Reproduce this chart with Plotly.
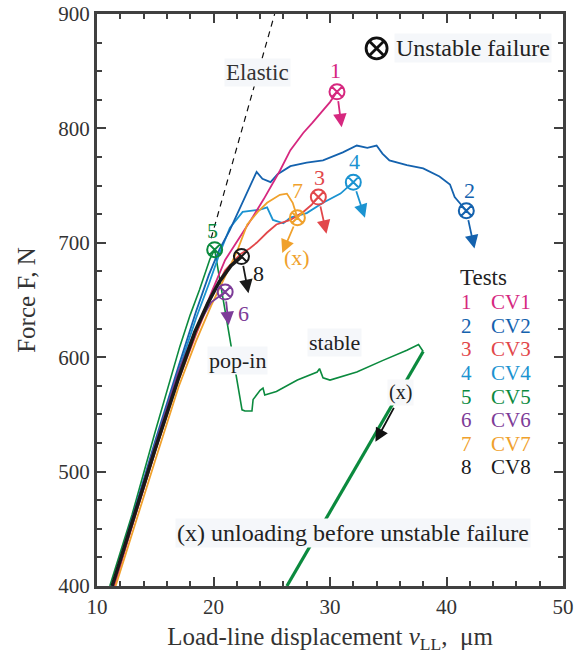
import plotly.graph_objects as go

# Load-line displacement (um) and force (N) for each test
cv1_x = [11.5, 13.0, 15.0, 17.0, 18.5, 19.8, 21.0, 22.3, 23.4, 24.3, 25.1, 25.7, 26.6, 27.7, 28.5, 29.4, 30.0, 30.6]
cv1_y = [400, 452, 518, 582, 622, 656, 685, 705, 723, 738, 752, 763, 781, 796, 805, 816, 823, 832]

cv2_x = [11.3, 13.0, 15.0, 17.0, 18.5, 19.6, 20.5, 21.4, 22.3, 23.0, 23.7, 24.2, 24.9, 25.5, 26.6, 28.0, 29.4,
         31.1, 32.3, 33.2, 34.0, 34.5, 35.1, 36.6, 38.0, 39.4, 40.3, 40.7, 41.7]
cv2_y = [400, 458, 527, 592, 640, 672, 694, 711, 731, 748, 762, 756, 753, 760, 767, 770, 772,
         779, 785, 783, 785, 778, 772, 768, 765, 758, 751, 740, 728]

cv3_x = [11.4, 13.0, 15.0, 17.0, 18.5, 19.8, 21.0, 22.3, 23.1, 23.7, 24.6, 25.4, 26.6, 27.7, 28.4, 29.0]
cv3_y = [400, 453, 518, 580, 620, 652, 676, 690, 695, 700, 709, 716, 720, 727, 733, 740]

cv4_x = [11.3, 13.0, 15.0, 17.0, 18.5, 19.6, 20.5, 21.4, 22.5, 24.0, 24.6, 25.1, 26.0, 26.6, 28.0, 29.4, 30.9, 32.0]
cv4_y = [400, 457, 524, 588, 634, 664, 690, 713, 727, 729, 731, 720, 717, 722, 726, 735, 743, 753]

cv5_x = [11.1, 13.0, 15.0, 17.1, 18.0, 18.8, 19.7, 20.1, 22.45, 22.7, 23.3, 23.4, 24.0, 24.25, 24.4, 25.4,
         27.2, 28.9, 29.1, 29.4, 30.0, 32.3, 34.5, 36.6, 37.6, 38.0]
cv5_y = [400, 462, 535, 609, 637, 659, 686, 694, 554, 553, 553, 563, 571, 573, 567, 570,
         580, 587, 590, 582, 580, 587, 597, 606, 611, 605]

# Unloading branch of CV5 (marked (x))
cv5u_x = [38.0, 26.3]
cv5u_y = [605, 400]

cv6_x = [11.3, 13.0, 15.0, 17.0, 18.5, 19.8, 21.0]
cv6_y = [400, 458, 524, 588, 625, 648, 657]

cv7_x = [11.6, 13.0, 15.0, 17.0, 18.5, 19.8, 20.8, 22.0, 22.9, 23.8, 24.6, 25.7, 26.3, 26.8, 27.2]
cv7_y = [400, 446, 510, 574, 614, 645, 667, 692, 716, 727, 735, 742, 743, 735, 722]

cv8_x = [11.3, 13.0, 15.0, 17.0, 18.4, 19.5, 20.5, 21.5, 22.4]
cv8_y = [400, 455, 520, 582, 622, 647, 666, 680, 688]

# Elastic compliance line
elastic_x = [19.8, 25.25]
elastic_y = [704, 900]

tests = ["CV1", "CV2", "CV3", "CV4", "CV5", "CV6", "CV7", "CV8"]
numbers = ["1", "2", "3", "4", "5", "6", "7", "8"]
colors = ["#d6287f", "#1462ae", "#e2474a", "#1b93d1", "#0b8a3e", "#7d3c98", "#f0a12c", "#1a1a1a"]

# Unstable failure points, number label positions, and drop-arrow end points
fail_x = [30.6, 41.7, 29.0, 32.0, 20.1, 21.0, 27.2, 22.4]
fail_y = [832, 728, 740, 753, 694, 657, 722, 688]
num_x = [30.45, 41.95, 29.1, 32.1, 19.95, 22.55, 27.25, 23.85]
num_y = [851, 746, 757, 771, 711, 638, 746, 673]
drop_x = [31.0, 42.4, 29.7, 33.0, None, 21.3, 25.9, 23.0]
drop_y = [801, 695, 708, 722, None, 628, 691, 656]

FONT = "Liberation Serif, Times New Roman, serif"

fig = go.Figure()

fig.add_trace(go.Scatter(x=elastic_x, y=elastic_y, mode="lines",
                         line=dict(color="#111111", width=1.2, dash="6px,5px")))

curves = [
    (cv5_x, cv5_y, 4, 1.6),
    (cv4_x, cv4_y, 3, 1.8),
    (cv2_x, cv2_y, 1, 1.8),
    (cv1_x, cv1_y, 0, 1.8),
    (cv3_x, cv3_y, 2, 1.8),
    (cv7_x, cv7_y, 6, 1.8),
    (cv6_x, cv6_y, 5, 1.8),
    (cv8_x, cv8_y, 7, 3.6),
]
for xs, ys, i, w in curves:
    fig.add_trace(go.Scatter(x=xs, y=ys, mode="lines",
                             line=dict(color=colors[i], width=w)))

fig.add_trace(go.Scatter(x=cv5u_x, y=cv5u_y, mode="lines",
                         line=dict(color=colors[4], width=3.2)))

fig.add_trace(go.Scatter(x=fail_x, y=fail_y, mode="markers",
                         marker=dict(symbol="circle-x-open", size=15, color=colors,
                                     line=dict(width=2, color=colors))))

annotations = []
for i in range(8):
    annotations.append(dict(x=num_x[i], y=num_y[i], text=numbers[i], showarrow=False,
                            font=dict(family=FONT, size=22, color=colors[i])))
    if drop_x[i] is not None:
        annotations.append(dict(x=drop_x[i], y=drop_y[i], ax=fail_x[i], ay=fail_y[i],
                                xref="x", yref="y", axref="x", ayref="y", text="",
                                showarrow=True, arrowhead=2, arrowsize=1.5, arrowwidth=1.8,
                                arrowcolor=colors[i], startstandoff=8))

# Orange (x) for CV7 unloading
annotations.append(dict(x=27.2, y=687, text="(x)", showarrow=False,
                        font=dict(family=FONT, size=22, color=colors[6])))

# Unloading arrow on CV5
annotations.append(dict(x=33.9, y=526, ax=35.55, ay=557, xref="x", yref="y", axref="x", ayref="y",
                        text="", showarrow=True, arrowhead=2, arrowsize=1.5, arrowwidth=1.8,
                        arrowcolor="#111111"))
annotations.append(dict(x=36.05, y=569, text="(x)", showarrow=False, bgcolor="#f7f8fa",
                        font=dict(family=FONT, size=20, color="#222222")))

box = "#f5f7fa"
annotations += [
    dict(x=23.8, y=849, text="Elastic", showarrow=False, bgcolor=box,
         font=dict(family=FONT, size=23, color="#333333")),
    dict(x=42.3, y=870, text="Unstable failure", showarrow=False, bgcolor=box,
         font=dict(family=FONT, size=24, color="#222222")),
    dict(x=22.1, y=597, text="pop-in", showarrow=False, bgcolor=box,
         font=dict(family=FONT, size=22, color="#222222")),
    dict(x=30.35, y=613, text="stable", showarrow=False, bgcolor=box,
         font=dict(family=FONT, size=22, color="#222222")),
    dict(x=32.0, y=446, text="(x) unloading before unstable failure", showarrow=False, bgcolor=box,
         font=dict(family=FONT, size=24, color="#222222")),
    dict(x=43.2, y=670, text="Tests", showarrow=False,
         font=dict(family=FONT, size=23, color="#222222")),
]

# Legend of tests (number and test name in the test colour)
legend_top = 648
legend_step = 20.6
for i in range(8):
    ly = legend_top - legend_step * i
    annotations.append(dict(x=41.75, y=ly, text=numbers[i], showarrow=False,
                            font=dict(family=FONT, size=21, color=colors[i])))
    annotations.append(dict(x=45.5, y=ly, text=tests[i], showarrow=False,
                            font=dict(family=FONT, size=21, color=colors[i])))

fig.add_trace(go.Scatter(x=[34.0], y=[870], mode="markers",
                         marker=dict(symbol="circle-x-open", size=21, color="#111111",
                                     line=dict(width=2.8, color="#111111"))))

axis_common = dict(showline=True, linecolor="#404040", linewidth=3, mirror="allticks",
                   ticks="inside", ticklen=9, tickwidth=2, tickcolor="#404040",
                   showgrid=False, zeroline=False, automargin=False,
                   tickfont=dict(family=FONT, size=21, color="#333333"))

fig.update_layout(
    width=574, height=657,
    margin=dict(l=97, r=11, t=14, b=71),
    plot_bgcolor="white", paper_bgcolor="white",
    showlegend=False,
    annotations=annotations,
    xaxis=dict(range=[10, 50], dtick=10, tick0=10,
               minor=dict(dtick=2, ticks="inside", ticklen=5, tickwidth=1.5, tickcolor="#404040"),
               title=dict(text="Load-line displacement <i>v</i><sub>LL</sub>,  \u03bcm", standoff=10,
                          font=dict(family=FONT, size=25, color="#333333")),
               **axis_common),
    yaxis=dict(range=[400, 900], dtick=100,
               minor=dict(dtick=25, ticks="inside", ticklen=5, tickwidth=1.5, tickcolor="#404040"),
               title=dict(text="Force F, N", standoff=16,
                          font=dict(family=FONT, size=25, color="#333333")),
               **axis_common),
)

fig.write_html("out.html")
